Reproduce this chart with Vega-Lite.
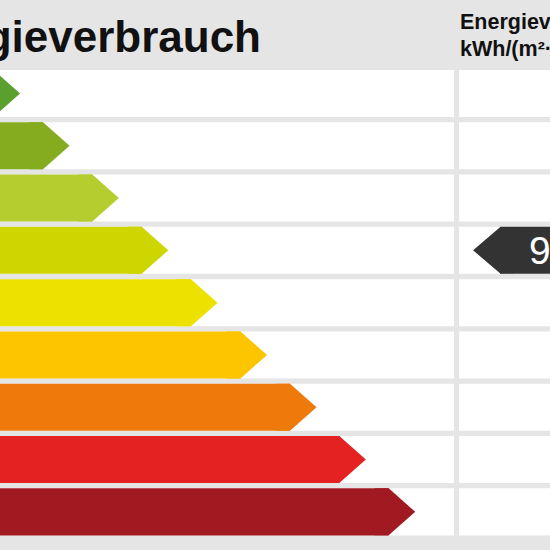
{
  "$schema": "https://vega.github.io/schema/vega-lite/v6.json",
  "width": 550,
  "height": 550,
  "autosize": "none",
  "padding": 0,
  "background": "#e5e5e5",
  "config": {"view": {"stroke": null}, "font": "Liberation Sans"},
  "datasets": {
    "classes": [
      {"class": "A+", "end": -6.5},
      {"class": "A", "end": 43},
      {"class": "B", "end": 92.3},
      {"class": "C", "end": 141.7},
      {"class": "D", "end": 191},
      {"class": "E", "end": 240.5},
      {"class": "F", "end": 290},
      {"class": "G", "end": 339.3},
      {"class": "H", "end": 388.7}
    ],
    "marker": [{"class": "C", "value": "95"}],
    "header": [{"title": "Energieverbrauch", "unit": "Energieverbrauch\nkWh/(m²·a)"}]
  },
  "encoding": {
    "y": {
      "field": "class",
      "type": "nominal",
      "axis": null,
      "scale": {
        "type": "band",
        "domain": ["A+", "A", "B", "C", "D", "E", "F", "G", "H"],
        "paddingInner": 0.101,
        "paddingOuter": 0.808,
        "align": 0.827
      }
    }
  },
  "layer": [
    {
      "data": {"name": "classes"},
      "mark": {"type": "bar", "fill": "#ffffff"},
      "encoding": {
        "x": {"datum": -20, "type": "quantitative", "axis": null, "scale": {"domain": [0, 550], "nice": false, "zero": false}},
        "x2": {"datum": 454}
      }
    },
    {
      "data": {"name": "classes"},
      "mark": {"type": "bar", "fill": "#ffffff"},
      "encoding": {
        "x": {"datum": 459, "type": "quantitative", "axis": null, "scale": {"domain": [0, 550], "nice": false, "zero": false}},
        "x2": {"datum": 600}
      }
    },
    {
      "data": {"name": "classes"},
      "mark": {"type": "bar"},
      "encoding": {
        "x": {"field": "end", "type": "quantitative", "axis": null, "scale": {"domain": [0, 550], "nice": false, "zero": false}},
        "x2": {"datum": -20},
        "color": {
          "field": "class",
          "type": "nominal",
          "legend": null,
          "scale": {
            "domain": ["A+", "A", "B", "C", "D", "E", "F", "G", "H"],
            "range": ["#5b9f2e", "#84ac1e", "#b5cd2f", "#cdd600", "#ede100", "#fdc400", "#ee7a0b", "#e42222", "#a11a21"]
          }
        }
      }
    },
    {
      "data": {"name": "classes"},
      "mark": {"type": "point", "filled": true, "opacity": 1, "strokeWidth": 0, "size": 2209, "shape": "M -0.6 -1 L 0 -1 L 1.13 0 L 0 1 L -0.6 1 Z"},
      "encoding": {
        "x": {"field": "end", "type": "quantitative", "axis": null, "scale": {"domain": [0, 550], "nice": false, "zero": false}},
        "color": {"field": "class", "type": "nominal", "legend": null}
      }
    },
    {
      "data": {"name": "marker"},
      "mark": {"type": "bar", "fill": "#333333"},
      "encoding": {
        "x": {"datum": 500, "type": "quantitative", "axis": null, "scale": {"domain": [0, 550], "nice": false, "zero": false}},
        "x2": {"datum": 600}
      }
    },
    {
      "data": {"name": "marker"},
      "mark": {"type": "point", "filled": true, "opacity": 1, "strokeWidth": 0, "size": 2116, "color": "#333333", "shape": "M 0.6 -1 L 0 -1 L -1.17 0 L 0 1 L 0.6 1 Z"},
      "encoding": {
        "x": {"datum": 500, "type": "quantitative", "axis": null, "scale": {"domain": [0, 550], "nice": false, "zero": false}}
      }
    },
    {
      "data": {"name": "marker"},
      "mark": {"type": "text", "align": "left", "baseline": "alphabetic", "dy": 14, "fontSize": 39, "color": "#ffffff"},
      "encoding": {
        "x": {"datum": 529, "type": "quantitative", "axis": null, "scale": {"domain": [0, 550], "nice": false, "zero": false}},
        "text": {"field": "value"}
      }
    },
    {
      "data": {"name": "header"},
      "mark": {"type": "text", "align": "right", "baseline": "alphabetic", "dy": -41.5, "fontSize": 44, "fontWeight": "bold", "color": "#111111"},
      "encoding": {
        "x": {"datum": 261, "type": "quantitative", "axis": null, "scale": {"domain": [0, 550], "nice": false, "zero": false}},
        "y": {"datum": "A+", "type": "nominal"},
        "text": {"field": "title"}
      }
    },
    {
      "data": {"name": "header"},
      "mark": {"type": "text", "align": "left", "baseline": "alphabetic", "dy": -64.5, "fontSize": 21.5, "fontWeight": "bold", "color": "#111111", "lineBreak": "\n", "lineHeight": 27},
      "encoding": {
        "x": {"datum": 460, "type": "quantitative", "axis": null, "scale": {"domain": [0, 550], "nice": false, "zero": false}},
        "y": {"datum": "A+", "type": "nominal"},
        "text": {"field": "unit"}
      }
    }
  ]
}
